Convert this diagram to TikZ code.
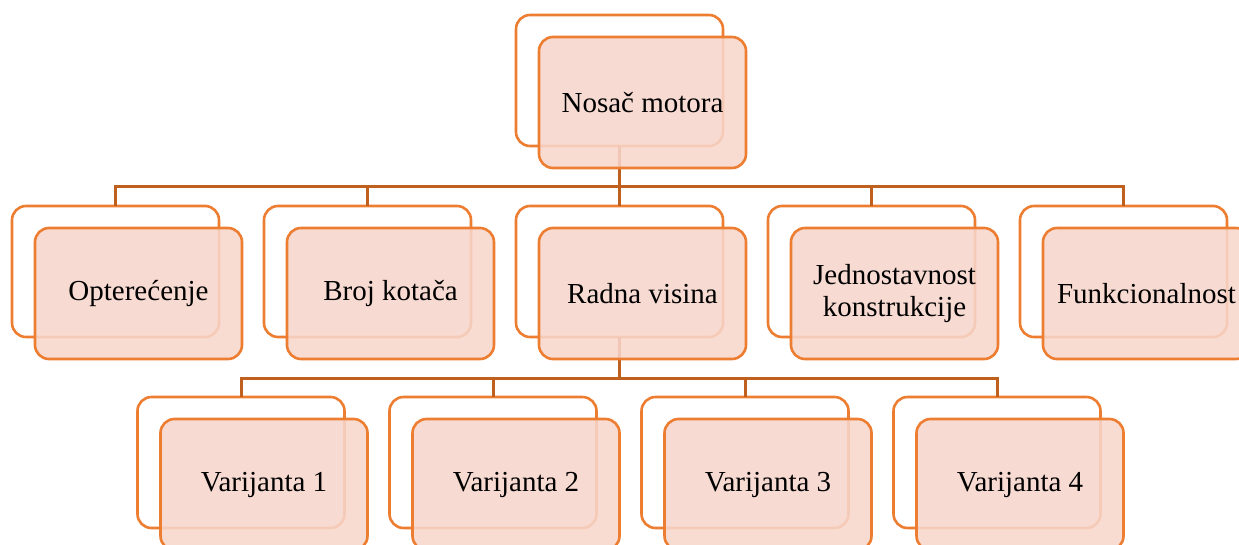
\documentclass[tikz,border=0pt]{standalone}
\usepackage{fontspec}
\setmainfont{Liberation Serif}
\usetikzlibrary{positioning}
\definecolor{accent}{HTML}{ED7D31}
\definecolor{linkcol}{HTML}{C0601F}
\definecolor{pinkfill}{HTML}{F7D6CB}

\begin{document}
\begin{tikzpicture}[x=1pt,y=-1pt,
    backbox/.style={draw=accent, line width=2.6pt, fill=white, rounded corners=14pt,
      minimum width=207pt, minimum height=131pt, outer sep=0pt, inner sep=0pt},
    frontbox/.style={backbox, fill=pinkfill, fill opacity=0.88, text opacity=1,
      font=\fontsize{29}{32}\selectfont, align=center},
    link/.style={draw=linkcol, line width=3pt},
    node distance=45pt]
  \useasboundingbox (0,0) rectangle (1239,544);
  % back boxes
  \node[backbox] (nosacB) at (619.5,80.5) {};
  \node[backbox] (optB) at (115.5,271.5) {};
  \node[backbox, right=of optB] (brojB) {};
  \node[backbox, right=of brojB] (radnaB) {};
  \node[backbox, right=of radnaB] (jednB) {};
  \node[backbox, right=of jednB] (funkB) {};
  \node[backbox] (var1B) at (241,462.5) {};
  \node[backbox, right=of var1B] (var2B) {};
  \node[backbox, right=of var2B] (var3B) {};
  \node[backbox, right=of var3B] (var4B) {};
  % connectors
  \foreach \c in {optB,brojB,radnaB,jednB,funkB}
    \draw[link] (nosacB.south) -- ++(0,40) -| (\c.north);
  \foreach \c in {var1B,var2B,var3B,var4B}
    \draw[link] (radnaB.south) -- ++(0,41) -| (\c.north);
  % front boxes
  \node[frontbox] (nosac) at ([shift={(23,22)}]nosacB.center) {Nosač motora};
  \node[frontbox] (opt) at ([shift={(23,22)}]optB.center) {Opterećenje};
  \node[frontbox] (broj) at ([shift={(23,22)}]brojB.center) {Broj kotača};
  \node[frontbox] (radna) at ([shift={(23,22)}]radnaB.center) {Radna visina};
  \node[frontbox] (jedn) at ([shift={(23,22)}]jednB.center) {Jednostavnost\\konstrukcije};
  \node[frontbox] (funk) at ([shift={(23,22)}]funkB.center) {Funkcionalnost};
  \node[frontbox] (var1) at ([shift={(23,22)}]var1B.center) {Varijanta 1};
  \node[frontbox] (var2) at ([shift={(23,22)}]var2B.center) {Varijanta 2};
  \node[frontbox] (var3) at ([shift={(23,22)}]var3B.center) {Varijanta 3};
  \node[frontbox] (var4) at ([shift={(23,22)}]var4B.center) {Varijanta 4};
\end{tikzpicture}
\end{document}
